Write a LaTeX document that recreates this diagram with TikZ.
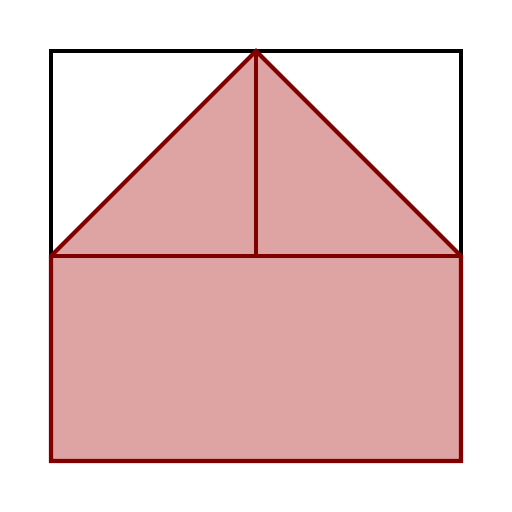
\documentclass[tikz,border=0pt]{standalone}
\usepackage{xcolor}
\usepackage{tikz}
\definecolor{toitfond}{HTML}{DEA3A3}
\definecolor{toitbord}{HTML}{800000}

\begin{document}
\begin{tikzpicture}[x=1cm,y=1cm, line width=1.15pt, line join=miter]
  \useasboundingbox (0,0) rectangle (5.12,5.12);
  \coordinate (bg) at (0.51,0.51);
  \coordinate (bd) at (4.61,0.51);
  \coordinate (md) at (4.61,2.56);
  \coordinate (mg) at (0.51,2.56);
  \coordinate (mc) at (2.56,2.56);
  \coordinate (sommet) at (2.56,4.61);
  \draw[black] (0.51,0.51) rectangle (4.61,4.61);
  \filldraw[fill=toitfond, draw=toitbord] (bg) -- (bd) -- (md) -- (sommet) -- (mg) -- cycle;
  \draw[toitbord] (mg) -- (md);
  \draw[toitbord] (mc) -- (sommet);
\end{tikzpicture}
\end{document}
